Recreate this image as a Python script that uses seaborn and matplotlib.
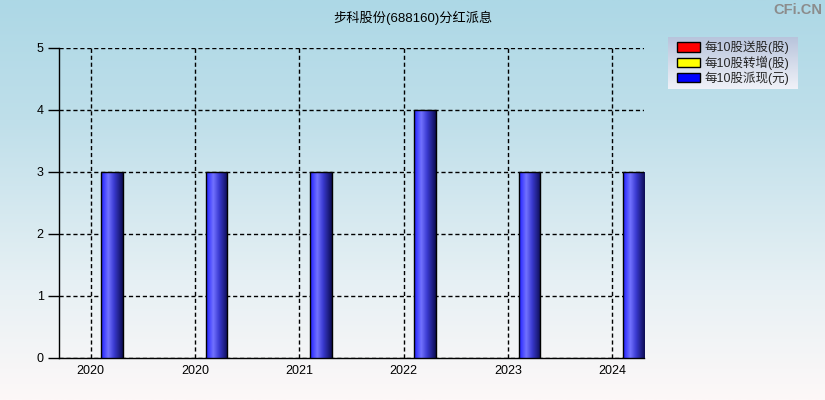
import numpy as np
import pandas as pd
import matplotlib
matplotlib.use("Agg")
import matplotlib.pyplot as plt
from matplotlib.patches import Patch
from matplotlib.colors import LinearSegmentedColormap
import seaborn as sns

title = "步科股份(688160)分红派息"
years = ["2020", "2020", "2021", "2022", "2023", "2024"]
series_names = ["每10股送股(股)", "每10股转增(股)", "每10股派现(元)"]
song_gu = [0, 0, 0, 0, 0, 0]
zhuan_zeng = [0, 0, 0, 0, 0, 0]
pai_xian = [3, 3, 3, 4, 3, 3]
series_colors = ["#ff0000", "#ffff00", "#0000ff"]

sns.set_theme(style="white")
plt.rcParams['font.family'] = ['Liberation Sans', 'Noto Sans CJK SC', 'DejaVu Sans']

rows = []
for name, vals in zip(series_names, [song_gu, zhuan_zeng, pai_xian]):
    for i, v in enumerate(vals):
        rows.append({"idx": str(i), "series": name, "value": v})
df = pd.DataFrame(rows)

fig = plt.figure(figsize=(8.25, 4.0), dpi=100)

# background gradient
bg = fig.add_axes([0, 0, 1, 1], zorder=-10)
grad = np.linspace(0, 1, 256).reshape(-1, 1)
bg_cmap = LinearSegmentedColormap.from_list(
    "bg", [(0, "#add8e6"), (0.3, "#bfdfea"), (0.7, "#e6f0f4"), (1.0, "#fdf8f8")])
bg.imshow(grad, aspect="auto", cmap=bg_cmap, extent=[0, 1, 0, 1], origin="upper")
bg.set_axis_off()

ax = fig.add_axes([59/825, 1-358/400, (644-59)/825, (358-48)/400])
ax.set_facecolor("none")

sns.barplot(data=df, x="idx", y="value", hue="series", order=[str(i) for i in range(6)],
            hue_order=series_names, palette=series_colors, width=0.62,
            edgecolor="black", linewidth=1, ax=ax, legend=False, zorder=3)

bar_cmap = LinearSegmentedColormap.from_list(
    "bar", [(0, "#1e1eff"), (0.33, "#7272ff"), (0.6, "#3a3ad0"), (1.0, "#0c0c52")])
hgrad = np.linspace(0, 1, 128).reshape(1, -1)
for p in list(ax.patches):
    h = p.get_height()
    if h <= 0:
        p.set_visible(False)
        continue
    x0 = p.get_x(); w = p.get_width()
    im = ax.imshow(hgrad, aspect="auto", cmap=bar_cmap, extent=[x0, x0 + w, 0, h],
                   zorder=3, interpolation="bilinear")
    im.set_clip_path(p)
    p.set_facecolor("none")
    p.set_zorder(4)

ax.set_xlim(-0.302, 5.302)
ax.set_ylim(0, 5)
ax.set_yticks([0, 1, 2, 3, 4, 5])
ax.set_xticks(range(6))
ax.set_xticklabels(years)
ax.set_xlabel("")
ax.set_ylabel("")
ax.grid(True, color="black", linestyle=(0, (3, 2)), linewidth=1, zorder=1)
ax.set_axisbelow(True)
for s in ["top", "right"]:
    ax.spines[s].set_visible(False)
for s in ["left", "bottom"]:
    ax.spines[s].set_color("black")
    ax.spines[s].set_linewidth(1)
ax.tick_params(axis="y", length=8, width=1, color="black", labelsize=9, pad=3,
               left=True, direction="out")
ax.tick_params(axis="x", length=0, labelsize=9, pad=5)
for t in ax.get_xticklabels() + ax.get_yticklabels():
    t.set_color("black")

fig.text(0.5, 1-18/400, title, ha="center", va="center", fontsize=9.5, color="black")
fig.text(0.997, 1-10/400, "CFi.CN", ha="right", va="center", fontsize=10.5,
         color="#8c8c8c", fontweight="bold")

# legend box with gradient
lx0, ly0, lw, lh = 668/825, 1-89/400, 130/825, 52/400
lax = fig.add_axes([lx0, ly0, lw, lh], zorder=5)
leg_cmap = LinearSegmentedColormap.from_list("lg", ["#b8c4dc", "#f0f2f8"])
lax.imshow(grad, aspect="auto", cmap=leg_cmap, extent=[0, 1, 0, 1], origin="upper")
lax.set_axis_off()
handles = [Patch(facecolor=c, edgecolor="black", linewidth=1) for c in series_colors]
lax.legend(handles, series_names, loc="center", frameon=False, fontsize=9,
           handlelength=1.9, handleheight=0.75, labelspacing=0.12, handletextpad=0.35,
           borderpad=0.1)

fig.savefig("out.png", dpi=100)
